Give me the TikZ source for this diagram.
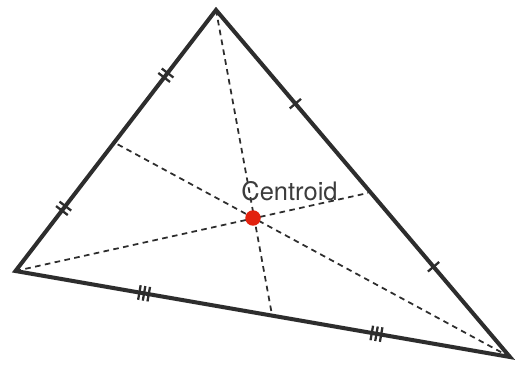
\documentclass[tikz,border=0pt]{standalone}
\usepackage{fontspec}
\setmainfont{TeX Gyre Heros}
\usetikzlibrary{decorations.markings}
\definecolor{sidegray}{RGB}{45,45,45}
\definecolor{labelgray}{RGB}{60,60,60}
\definecolor{dotred}{RGB}{226,34,14}
\tikzset{
  side/.style={draw=sidegray, line width=2.3pt},
  median/.style={draw=sidegray, line width=1pt, dash pattern=on 3.2pt off 2.5pt},
  tickline/.style={draw=sidegray, line width=1.3pt},
  ticks/.style n args={3}{decoration={markings,
    mark=at position #1 with {\foreach \s in {#3} \draw[tickline] (\s pt,-4.2pt) -- (\s pt,4.2pt);},
    mark=at position #2 with {\foreach \s in {#3} \draw[tickline] (\s pt,-4.2pt) -- (\s pt,4.2pt);}},
    decorate}
}
\begin{document}
\begin{tikzpicture}[x=0.02cm, y=-0.02cm]
\useasboundingbox (0,0) rectangle (516,367);

\coordinate (A) at (216,10);
\coordinate (B) at (15.5,271);
\coordinate (C) at (510,357);
\coordinate (mab) at (117,144);
\coordinate (mac) at (368,193);
\coordinate (mbc) at (272,315);

\draw[median] (A) -- (mbc);
\draw[median] (B) -- (mac);
\draw[median] (C) -- (mab);

\draw[side] (A) -- (B) -- (C) -- cycle;

\path[ticks={0.25}{0.76}{-1.6,1.6}] (A) -- (B);
\path[ticks={0.27}{0.74}{0}] (A) -- (C);
\path[ticks={0.26}{0.73}{-2.7,0,2.7}] (B) -- (C);

\node[text=labelgray, font=\fontsize{14.5}{17}\selectfont] (lbl) at (289.5,191) {Centroid};
\node[circle, fill=dotred, inner sep=0pt, minimum size=0.31cm] (g) at (253,218) {};
\end{tikzpicture}
\end{document}
